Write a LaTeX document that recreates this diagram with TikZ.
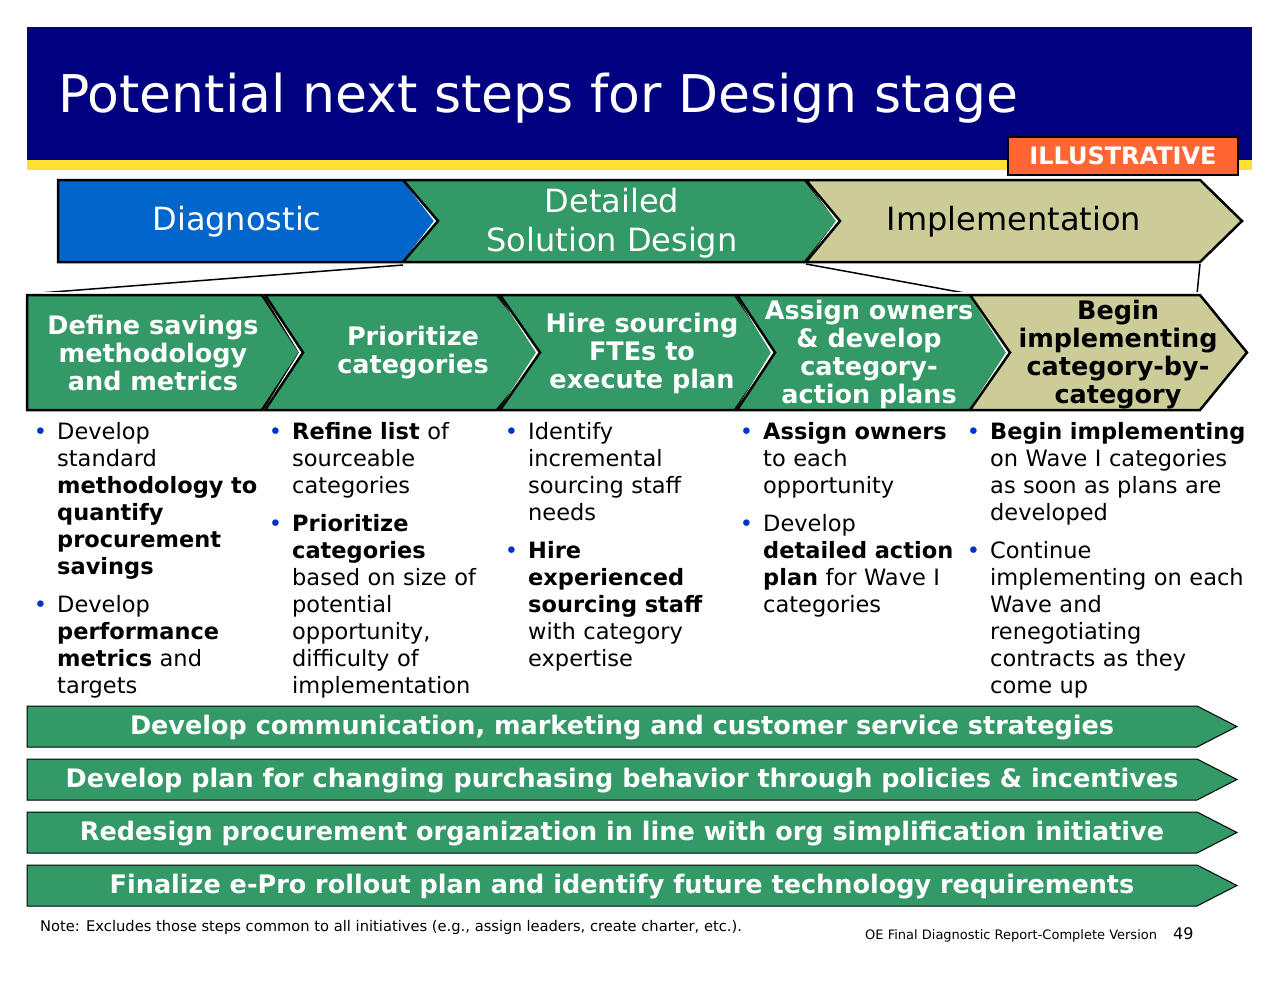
\documentclass[tikz,border=0pt]{standalone}
\usepackage{fontspec}
\setmainfont{DejaVu Sans}
\definecolor{navy}{HTML}{000080}
\definecolor{yelw}{HTML}{FFE135}
\definecolor{gr}{HTML}{339966}
\definecolor{tan}{HTML}{CCCC99}
\definecolor{bl}{HTML}{0066CC}
\definecolor{org}{HTML}{FF6633}
\definecolor{bul}{HTML}{0033CC}
\newcommand{\chv}[7]{% fill, xleft, notch depth, xbody, xtip, ytop, ybot
  \fill[white] (#2-3,#6-3) -- (#4+3,#6-3) -- (#5+4,{(#6+#7)/2}) -- (#4+3,#7+3) -- (#2-3,#7+3) -- (#2+#3-4,{(#6+#7)/2}) -- cycle;
  \filldraw[fill=#1,draw=black,line width=2.5pt,line join=miter] (#2,#6) -- (#4,#6) -- (#5,{(#6+#7)/2}) -- (#4,#7) -- (#2,#7) -- (#2+#3,{(#6+#7)/2}) -- cycle;}
\newenvironment{blist}{\begin{list}{\textcolor{bul}{•}}{\leftmargin=24pt\labelwidth=14pt\labelsep=10pt\itemsep=11pt\parsep=0pt\topsep=0pt\partopsep=0pt}}{\end{list}}
\begin{document}
\begin{tikzpicture}[x=1pt,y=-1pt,
  stp/.style={font=\fontsize{25.5}{28}\selectfont\bfseries,align=center,text=white},
  col/.style={anchor=north west,inner sep=0pt,font=\fontsize{22.5}{27}\selectfont,align=left},
  bar/.style={font=\fontsize{25.5}{28}\selectfont\bfseries,text=white}]
\useasboundingbox (0,0) rectangle (1280,990);
\fill[white] (0,0) rectangle (1280,990);
% header
\fill[navy] (27,27) rectangle (1252,160);
\fill[yelw] (27,160) rectangle (1252,170);
\node[anchor=base west,text=white,font=\fontsize{52}{58}\selectfont,inner sep=0pt] (title) at (58,113) {Potential next steps for Design stage};
\node[draw=black,line width=2pt,fill=org,text=white,font=\fontsize{24}{26}\selectfont\bfseries,inner sep=3pt,minimum width=230pt,minimum height=38pt] (ill) at (1123,156) {ILLUSTRATIVE};
% top chevrons
\chv{bl}{58}{0}{420}{437}{180}{262}
\chv{gr}{403}{35}{805}{838}{180}{262}
\chv{tan}{806}{34}{1200}{1242}{180}{262}
\node[text=white,font=\fontsize{32}{39}\selectfont] (d1) at (237,222) {Diagnostic};
\node[text=white,font=\fontsize{32}{39}\selectfont,align=center] (d2) at (612,223) {Detailed\\Solution Design};
\node[text=black,font=\fontsize{32}{39}\selectfont] (d3) at (1014,222) {Implementation};
% connector lines
\coordinate (a1) at (403,265); \coordinate (b1) at (27,294);
\coordinate (a2) at (806,264); \coordinate (b2) at (970,294);
\coordinate (a3) at (1200,264); \coordinate (b3) at (1197,294);
\draw[line width=1.5pt] (a1) -- (b1);
\draw[line width=1.5pt] (a2) -- (b2);
\draw[line width=1.5pt] (a3) -- (b3);
% second row
\chv{gr}{27}{0}{262}{300}{295}{410}
\chv{gr}{265}{38}{497}{545}{295}{410}
\chv{gr}{500}{40}{735}{775}{295}{410}
\chv{gr}{737}{38}{970}{1012}{295}{410}
\chv{tan}{970}{40}{1200}{1247}{295}{410}
\node[stp] (s1) at (153,353) {Define savings\\methodology\\and metrics};
\node[stp] (s2) at (413,353) {Prioritize\\categories};
\node[stp] (s3) at (642,353) {Hire sourcing\\FTEs to\\execute plan};
\node[stp] (s4) at (869,354) {Assign owners\\\& develop\\category-\\action plans};
\node[stp,text=black] (s5) at (1118,355) {Begin\\implementing\\category-by-\\category};
% bullet columns
\node[col,text width=240pt] (c1) at (33,412) {\begin{blist}\item Develop\\standard\\\textbf{methodology to}\\\textbf{quantify}\\\textbf{procurement}\\\textbf{savings}\item Develop\\\textbf{performance}\\\textbf{metrics} and\\targets\end{blist}};
\node[col,text width=240pt] (c2) at (268,412) {\begin{blist}\item \textbf{Refine list} of\\sourceable\\categories\item \textbf{Prioritize}\\\textbf{categories}\\based on size of\\potential\\opportunity,\\difficulty of\\implementation\end{blist}};
\node[col,text width=240pt] (c3) at (504,412) {\begin{blist}\item Identify\\incremental\\sourcing staff\\needs\item \textbf{Hire}\\\textbf{experienced}\\\textbf{sourcing staff}\\with category\\expertise\end{blist}};
\node[col,text width=240pt] (c4) at (739,412) {\begin{blist}\item \textbf{Assign owners}\\to each\\opportunity\item Develop\\\textbf{detailed action}\\\textbf{plan} for Wave I\\categories\end{blist}};
\node[col,text width=300pt] (c5) at (966,412) {\begin{blist}\item \textbf{Begin implementing}\\on Wave I categories\\as soon as plans are\\developed\item Continue\\implementing on each\\Wave and\\renegotiating\\contracts as they\\come up\end{blist}};
% bottom bars
\foreach \yt/\txt/\nm in {706/{Develop communication, marketing and customer service strategies}/b1x,
  759/{Develop plan for changing purchasing behavior through policies \& incentives}/b2x,
  812/{Redesign procurement organization in line with org simplification initiative}/b3x,
  865/{Finalize e-Pro rollout plan and identify future technology requirements}/b4x}{
  \filldraw[fill=gr,draw=black,line width=1pt] (27,\yt) -- (1197,\yt) -- (1237,\yt+20.5) -- (1197,\yt+41) -- (27,\yt+41) -- cycle;
  \node[bar] (\nm) at (622,\yt+22) {\txt};
}
% footer
\node[anchor=base west,inner sep=0pt,font=\fontsize{14.7}{16}\selectfont] (note) at (40,931) {Note: Excludes those steps common to all initiatives (e.g., assign leaders, create charter, etc.).};
\node[anchor=base west,inner sep=0pt,font=\fontsize{13}{15}\selectfont] (foot) at (865,939) {OE Final Diagnostic Report-Complete Version};
\node[anchor=base west,inner sep=0pt,font=\fontsize{16}{18}\selectfont] (pg) at (1173,939) {49};
\end{tikzpicture}
\end{document}
